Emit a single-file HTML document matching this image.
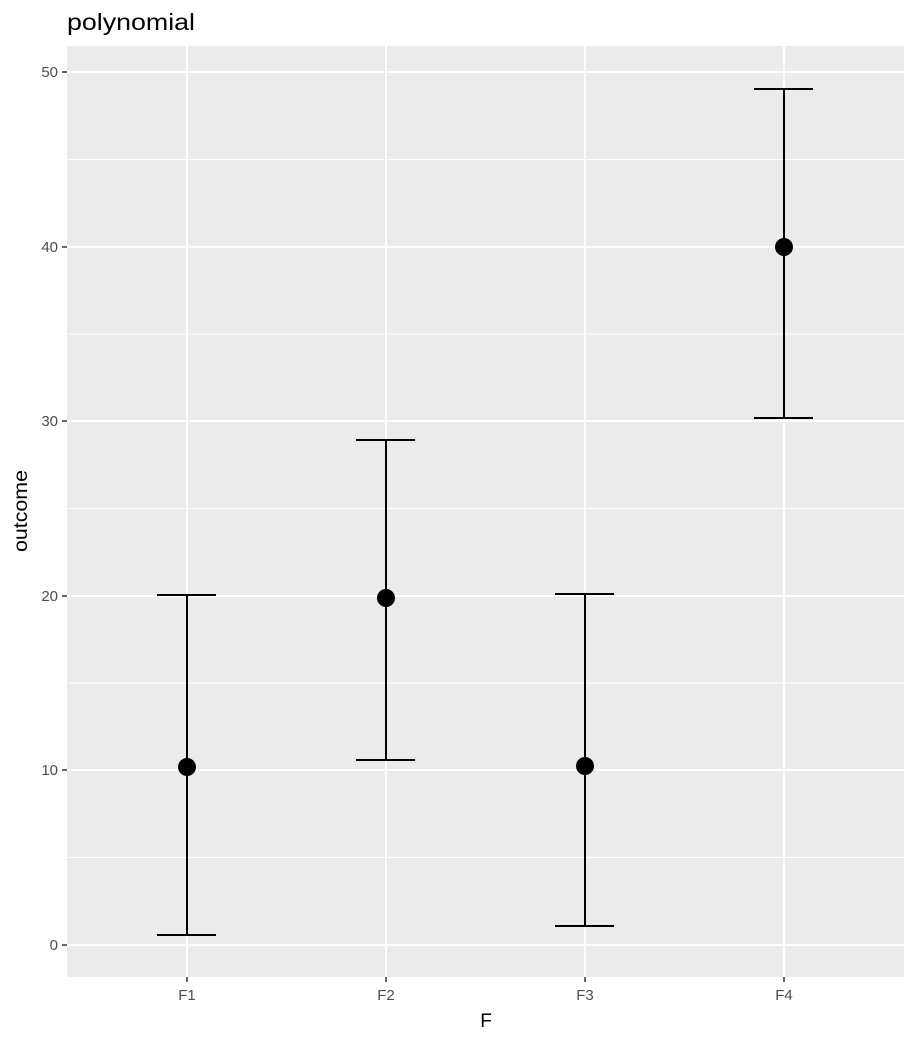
<!DOCTYPE html>
<html><head><style>body{margin:0;background:#fff}</style></head><body>
<svg width="915" height="1042" xmlns="http://www.w3.org/2000/svg" font-family="Liberation Sans, sans-serif">
<rect width="915" height="1042" fill="#fff"/>
<rect x="67" y="46" width="837" height="931" fill="#ebebeb"/>
<g stroke="#fff" stroke-width="1">
<line x1="67" x2="904" y1="857.5" y2="857.5"/><line x1="67" x2="904" y1="683" y2="683"/><line x1="67" x2="904" y1="508.5" y2="508.5"/><line x1="67" x2="904" y1="334" y2="334"/><line x1="67" x2="904" y1="159.5" y2="159.5"/>
</g>
<g stroke="#fff" stroke-width="2">
<line x1="67" x2="904" y1="945" y2="945"/><line x1="67" x2="904" y1="770" y2="770"/><line x1="67" x2="904" y1="596" y2="596"/><line x1="67" x2="904" y1="421" y2="421"/><line x1="67" x2="904" y1="247" y2="247"/><line x1="67" x2="904" y1="72" y2="72"/>
<line x1="187" x2="187" y1="46" y2="977"/><line x1="386" x2="386" y1="46" y2="977"/><line x1="585" x2="585" y1="46" y2="977"/><line x1="784" x2="784" y1="46" y2="977"/>
</g>
<g stroke="#000" stroke-width="2" fill="none">
<path d="M157,595H216M187,595V935M157,935H216"/>
<path d="M356,440H415M386,440V760M356,760H415"/>
<path d="M555,594H614M585,594V926M555,926H614"/>
<path d="M754,89H813M784,89V418M754,418H813"/>
</g>
<g fill="#000"><circle cx="187" cy="767" r="9"/><circle cx="386" cy="598" r="9"/><circle cx="585" cy="766" r="9"/><circle cx="784" cy="247" r="9"/></g>
<g stroke="#333" stroke-width="1.5">
<line x1="62" x2="67" y1="945" y2="945"/><line x1="62" x2="67" y1="770" y2="770"/><line x1="62" x2="67" y1="596" y2="596"/><line x1="62" x2="67" y1="421" y2="421"/><line x1="62" x2="67" y1="247" y2="247"/><line x1="62" x2="67" y1="72" y2="72"/>
<line x1="187" x2="187" y1="977" y2="982"/><line x1="386" x2="386" y1="977" y2="982"/><line x1="585" x2="585" y1="977" y2="982"/><line x1="784" x2="784" y1="977" y2="982"/>
</g>
<g fill="#4d4d4d" font-size="15" text-anchor="end">
<text x="58" y="950">0</text><text x="58" y="775">10</text><text x="58" y="601">20</text><text x="58" y="426">30</text><text x="58" y="252">40</text><text x="58" y="77">50</text>
</g>
<g fill="#4d4d4d" font-size="15" text-anchor="middle">
<text x="187" y="1000">F1</text><text x="386" y="1000">F2</text><text x="585" y="1000">F3</text><text x="784" y="1000">F4</text>
</g>
<text x="486" y="1027" font-size="19" text-anchor="middle">F</text>
<text transform="translate(27,511) rotate(-90)" font-size="19" text-anchor="middle" textLength="82" lengthAdjust="spacingAndGlyphs">outcome</text>
<text x="67" y="30" font-size="23" textLength="128" lengthAdjust="spacingAndGlyphs">polynomial</text>
</svg>
</body></html>
